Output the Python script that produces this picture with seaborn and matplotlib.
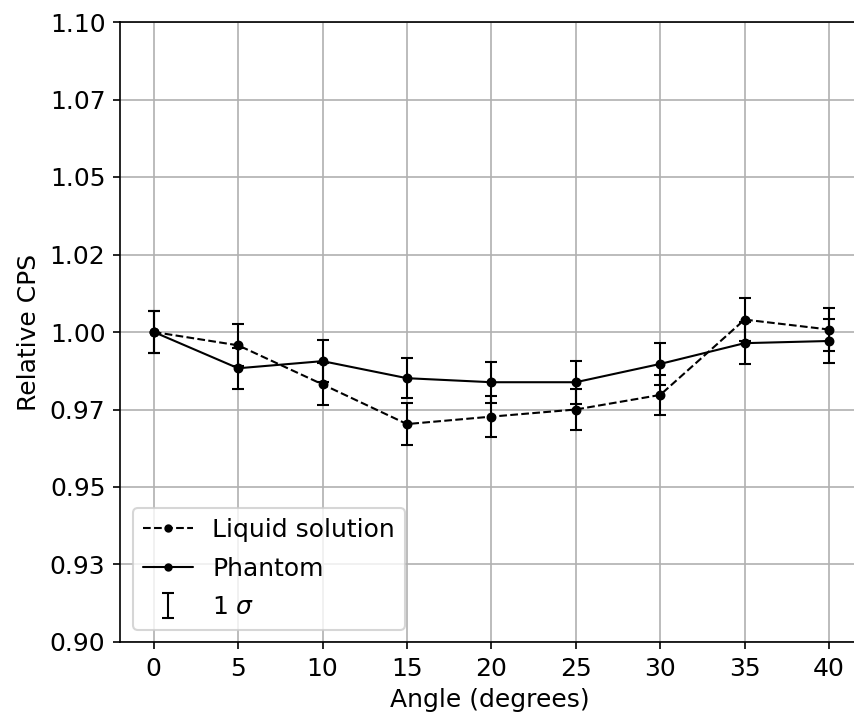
import numpy as np
import pandas as pd
import matplotlib
matplotlib.use("Agg")
import matplotlib.pyplot as plt
import seaborn as sns
from matplotlib.lines import Line2D

angles = [0, 5, 10, 15, 20, 25, 30, 35, 40]
liquid = [1.0000, 0.9957, 0.9831, 0.9703, 0.9727, 0.9750, 0.9797, 1.0040, 1.0008]
liquid_err = [0.0068, 0.0068, 0.0068, 0.0068, 0.0066, 0.0065, 0.0064, 0.0069, 0.0069]
phantom = [1.0000, 0.9883, 0.9906, 0.9851, 0.9838, 0.9838, 0.9897, 0.9964, 0.9971]
phantom_err = [0.0068, 0.0066, 0.0068, 0.0065, 0.0066, 0.0070, 0.0069, 0.0067, 0.0070]

y_ticks = [0.900, 0.925, 0.950, 0.975, 1.000, 1.025, 1.050, 1.075, 1.100]
y_tick_labels = ["0.90", "0.93", "0.95", "0.97", "1.00", "1.02", "1.05", "1.07", "1.10"]
x_ticks = [0, 5, 10, 15, 20, 25, 30, 35, 40]

sns.set_style("ticks")
plt.rcParams['font.family'] = ['DejaVu Sans']
plt.rcParams['font.size'] = 12
for k in ['text.color', 'axes.labelcolor', 'xtick.color', 'ytick.color', 'axes.edgecolor']:
    plt.rcParams[k] = 'black'

dpi = 150
fig = plt.figure(figsize=(854 / dpi, 715 / dpi), dpi=dpi, facecolor="white")
# axes runs to the right edge of the canvas (the reference is cropped there)
ax = fig.add_axes([120 / 854, 73 / 715, 734 / 854, 620 / 715])
ax.patch.set_edgecolor("none")

df_l = pd.DataFrame({"angle": angles, "val": liquid})
df_p = pd.DataFrame({"angle": angles, "val": phantom})

sns.lineplot(data=df_l, x="angle", y="val", ax=ax, color="black", linestyle="--",
             marker="o", markersize=4, linewidth=1, markeredgecolor="black", label=None)
sns.lineplot(data=df_p, x="angle", y="val", ax=ax, color="black", linestyle="-",
             marker="o", markersize=4, linewidth=1, markeredgecolor="black", label=None)
ax.errorbar(angles, liquid, yerr=liquid_err, fmt="none", ecolor="black", elinewidth=1, capsize=3)
ax.errorbar(angles, phantom, yerr=phantom_err, fmt="none", ecolor="black", elinewidth=1, capsize=3)

ax.set_xlim(-2, 41.48)
ax.set_ylim(0.9, 1.1)
ax.set_xticks(x_ticks)
ax.set_yticks(y_ticks)
ax.set_yticklabels(y_tick_labels)
ax.grid(True, color="#b0b0b0", linewidth=0.8)
ax.set_axisbelow(True)
ax.tick_params(direction="out", length=3.5, width=0.8, color="black", labelsize=12)
for s in ax.spines.values():
    s.set_color("black")
    s.set_linewidth(0.8)
ax.spines['right'].set_visible(False)
ax.set_xlabel("Angle (degrees)", fontsize=12)
ax.xaxis.set_label_coords((490 - 120) / 734, -0.075)
ax.set_ylabel("Relative CPS", fontsize=12)

h1 = Line2D([], [], color="black", linestyle="--", marker="o", markersize=3, linewidth=1)
h2 = Line2D([], [], color="black", linestyle="-", marker="o", markersize=3, linewidth=1)
h3 = ax.errorbar([np.nan], [np.nan], yerr=[0.01], fmt="none", ecolor="black",
                 elinewidth=1, capsize=3)
ax.legend([h1, h2, h3], ["Liquid solution", "Phantom", r"1 $\sigma$"], loc="lower left",
          frameon=True, fontsize=12, labelspacing=0.6)

fig.savefig("out.png", dpi=dpi, facecolor="white")
